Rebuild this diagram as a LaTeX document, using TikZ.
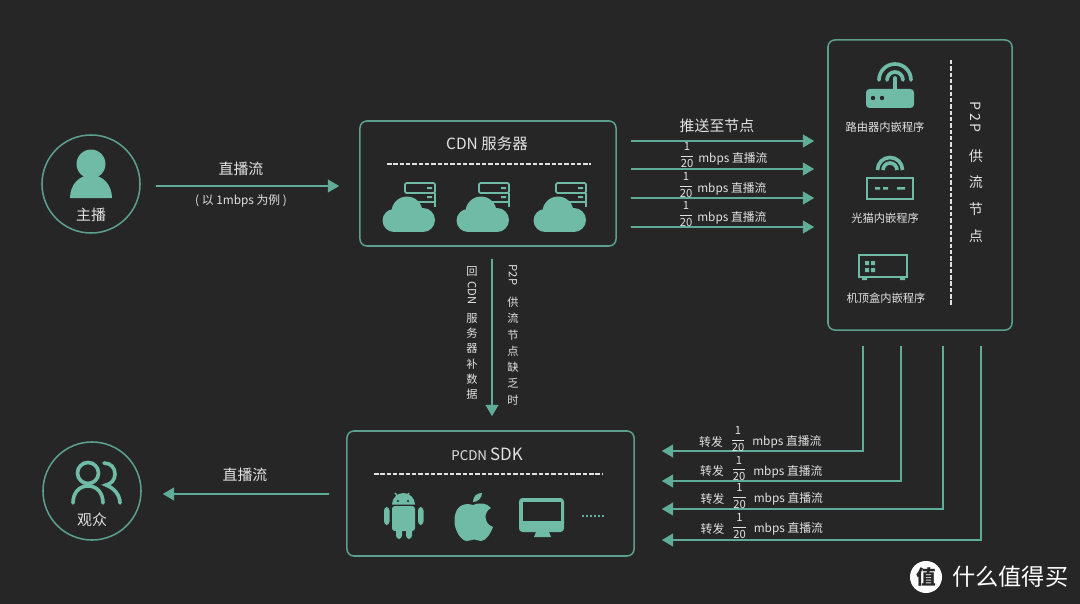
\documentclass[tikz,border=0pt]{standalone}
\usepackage{amsmath}
\usepackage{fontspec}
\setmainfont{Noto Sans CJK SC}
\usetikzlibrary{arrows.meta,positioning,calc}
\definecolor{bgd}{HTML}{262626}
\definecolor{edge}{HTML}{5B9F8C}
\definecolor{flowc}{HTML}{5FAD98}
\definecolor{iconc}{HTML}{6FBBA6}
\definecolor{txt}{HTML}{E2E2E2}
\tikzset{
  panel/.style={draw=edge, line width=1.1pt, rounded corners=5pt, fill=bgd},
  round/.style={draw=edge, line width=1.1pt, circle, minimum size=2.45cm, inner sep=0pt},
  flow/.style={-{Triangle[length=8pt, width=9pt]}, line width=1.35pt, flowc},
  sep/.style={txt, line width=0.9pt, dash pattern=on 3.2pt off 1.3pt},
  ifill/.style={fill=iconc, draw=none},
  iline/.style={draw=iconc, line width=2.6pt, line cap=round},
  ibox/.style={draw=iconc, line width=1.9pt},
  lab/.style={font=\fontsize{10.6}{12}\selectfont, txt},
  slab/.style={font=\fontsize{8}{10}\selectfont, txt},
  tlab/.style={font=\fontsize{8.4}{10}\selectfont, txt},
  vlab/.style={txt, align=center, inner sep=0pt},
  frac/.style={font=\fontsize{8}{9}\selectfont, txt, inner sep=0pt},
  pics/cloudserver/.style={code={
    \draw[draw=iconc, line width=1.3pt, rounded corners=1pt] (23,-49) rectangle (53,-39);
    \draw[draw=iconc, line width=1.3pt] (53,-39) -- (53,-25) (30,-30) -- (53,-30);
    \fill[iconc] (45,-45) rectangle (50,-43) (45,-36) rectangle (50,-34);
    \fill[iconc] (25,-20) circle [radius=15.5];
    \fill[iconc] (12,-11.5) circle [radius=11.5];
    \fill[iconc] (41,-12) circle [radius=12];
    \fill[iconc] (12,-12) rectangle (41,0);
  }},
}
\newcommand{\ratefrac}{$\dfrac{\text{1}}{\text{20}}$}

\begin{document}
\begin{tikzpicture}[x=0.025cm,y=-0.025cm]

\fill[bgd] (0,0) rectangle (1080,604);
\useasboundingbox (0,0) rectangle (1080,604);

% ===================== boxes =====================
\node[round] (host) at (91,184) {};
\node[round] (viewer) at (92,491) {};
\node[panel, minimum width=6.4cm, minimum height=3.125cm] (cdn) at (488,183.5) {};
\node[panel, minimum width=4.6cm, minimum height=7.25cm] (p2p) at (920,185) {};
\node[panel, minimum width=7.175cm, minimum height=3.125cm] (sdk) at (490.5,493.5) {};

% ===================== connectors =====================
\draw[flow] ([shift={(15,2)}]host.east) -- ([shift={(-20,2.5)}]cdn.west);
\foreach \i/\y in {1/-42.5,2/-14.5,3/14.5,4/43.5}{
  \draw[flow] ([shift={(14,\y)}]cdn.east) -- ([shift={(-13,\y-1.5)}]p2p.west);}
\draw[flow] ([shift={(4,12)}]cdn.south) -- ([shift={(1.5,-14)}]sdk.north);
\foreach \dx/\dy in {-57/-42.5,-19/-12.5,23/15.5,61/46.5}{
  \draw[flow] ([shift={(\dx,15)}]p2p.south) |- ([shift={(27,\dy)}]sdk.east);}
\draw[flow] ([shift={(-17,0.5)}]sdk.west) -- ([shift={(21,3)}]viewer.east);

% ===================== host and viewer =====================
\fill[iconc] (91,164) circle [radius=14.5];
\fill[iconc] (70,198) .. controls (70,185) and (79,175) .. (91,175)
  .. controls (103,175) and (112,185) .. (112,198) -- cycle;
\node[lab] (hostlab) at (91,215) {主播};
\node[lab] (flowlab) at (241,169) {直播流};
\node[tlab] (flownote) at (241,201) {( 以 1mbps 为例 )};

\draw[iline] (88,473) circle [radius=10.5];
\draw[iline] (73,503) .. controls (73,493) and (79,486) .. (88,486)
  .. controls (97,486) and (103,493) .. (103,503);
\draw[iline] (104,463) .. controls (111,463) and (115,468) .. (115,474)
  .. controls (115,480) and (111,484) .. (106,485)
  .. controls (114,488) and (120,495) .. (120,503);
\node[lab] (viewerlab) at (92,520) {观众};
\node[lab] (backlab) at (245,475) {直播流};

% ===================== CDN box =====================
\node[font=\fontsize{11}{13}\selectfont, txt] (cdntitle) at (487,144) {CDN 服务器};
\draw[sep] (387,164) -- (591,164);
\foreach \x in {382,456,533}{
  \pic at (\x,232) {cloudserver};}

% ===================== rates towards the nodes =====================
\node[lab] (pushlab) at (717,126) {推送至节点};
\foreach \i/\x/\y in {1/687/155,2/686/185,3/686/214}{
  \node[frac] (ratef\i) at (\x,\y) {\ratefrac};
  \node[tlab, anchor=west, inner sep=0pt] (ratet\i) at (\x+11,\y+3.5) {mbps 直播流};}

% ===================== vertical labels =====================
\node[vlab, font=\fontsize{8}{10}\selectfont] (backa) at (472,271) {回};
\node[vlab, rotate=-90, font=\fontsize{8}{10}\selectfont] (backb) at (472,293) {CDN};
\node[vlab, font=\fontsize{8}{10.8}\selectfont] (backc) at (472,356.5) {服\\务\\器\\补\\数\\据};
\node[vlab, rotate=-90, font=\fontsize{8}{10}\selectfont] (lacka) at (513,275) {P2P};
\node[vlab, font=\fontsize{8}{11.6}\selectfont] (lackb) at (513,351) {供\\流\\节\\点\\缺\\乏\\时};

% ===================== P2P box =====================
\draw[sep] (951,60) -- (951,306);
\node[vlab, rotate=-90, font=\fontsize{10}{12}\selectfont] (p2pa) at (976,117) {P\,2\,P};
\node[vlab, font=\fontsize{10}{19}\selectfont] (p2pb) at (976,196) {供\\流\\节\\点};

% router
\draw[iline] (879,80) arc [start angle=180, end angle=360, radius=16];
\draw[iline] (887,80) arc [start angle=180, end angle=360, radius=8];
\draw[iline] (895,78) -- (895,92);
\fill[iconc, rounded corners=2.5pt] (866,89) rectangle (914,108);
\fill[bgd] (873,98) circle [radius=2.2] (882,98) circle [radius=2.2];
\node[slab] (routerlab) at (885,127) {路由器内嵌程序};

% modem
\draw[iline, line cap=butt] (877.5,170) arc [start angle=180, end angle=360, radius=12.5];
\draw[iline, line cap=butt] (883,170) arc [start angle=180, end angle=360, radius=7];
\draw[ibox] (867,178) rectangle (913,199);
\fill[iconc] (875,187) rectangle (880,189.5) (883,187) rectangle (888,189.5) (897,187) rectangle (905,189.5);
\node[slab] (modemlab) at (885,218) {光猫内嵌程序};

% set-top box
\draw[ibox] (859,255) rectangle (907,277);
\fill[iconc] (862,278) rectangle (867,280) (900,278) rectangle (905,280);
\fill[iconc] (865,261) rectangle (869,265) (871,261) rectangle (875,265)
  (865,268) rectangle (869,272) (871,268) rectangle (875,272);
\node[slab] (stblab) at (886,298) {机顶盒内嵌程序};

% ===================== forwarded rates =====================
\foreach \i/\d/\y in {1/0/439,2/1/468.5,3/1.5/496,4/1.5/526}{
  \node[tlab] (fwda\i) at (711+\d,\y+3) {转发};
  \node[frac] (fwdf\i) at (738+\d,\y) {\ratefrac};
  \node[tlab, anchor=west, inner sep=0pt] (fwdt\i) at (752+\d,\y+3) {mbps 直播流};}

% ===================== SDK box =====================
\node[txt, inner sep=0pt] (sdktitle) at (487,454)
  {\fontsize{9.5}{11}\selectfont PCDN \fontsize{12}{13}\selectfont SDK};
\draw[sep] (374,474) -- (603,474);

% android
\draw[iconc, line width=1pt] (395,493) -- (399,498) (409,493) -- (405,498);
\fill[iconc] (392,504.5) arc [start angle=180, end angle=360, radius=11.5] -- cycle;
\fill[bgd] (398,501) circle [radius=1.1] (408,501) circle [radius=1.1];
\fill[iconc, rounded corners=2pt] (392,506) rectangle (415,531);
\fill[iconc, rounded corners=2.4pt] (384,507) rectangle (389.5,525) (418,507) rectangle (423.5,525)
  (396,525) rectangle (402,539) (406,525) rectangle (412,539);

% apple
\fill[iconc] (473,505) .. controls (467,503) and (455,503) .. (454.5,520)
  .. controls (454,530) and (461,541) .. (467,541)
  .. controls (470,541) and (471,539.5) .. (474,539.5)
  .. controls (477,539.5) and (478,541) .. (481,541)
  .. controls (486,541) and (491,533) .. (493,527)
  .. controls (484,524) and (483,512) .. (491,508)
  .. controls (487,503) and (479,502) .. (473,505) -- cycle;
\fill[iconc] (473,502) .. controls (473,496) and (477,493) .. (482,493)
  .. controls (482,498) and (478,502) .. (473,502) -- cycle;

% monitor
\fill[iconc, rounded corners=2.5pt] (519,498) rectangle (564,532);
\fill[bgd] (523,502) rectangle (561,521);
\fill[iconc] (536,532) -- (549,532) -- (551,537) -- (534,537) -- cycle;
\draw[flowc, line width=0.9pt, dash pattern=on 1.4pt off 1.4pt] (582,516) -- (605,516);

% ===================== site mark =====================
\node[circle, fill=white, minimum size=0.8cm, inner sep=0pt, text=bgd,
  font=\fontsize{14}{16}\selectfont\bfseries] (marklogo) at (926,577) {值};
\node[anchor=west, inner sep=0pt, text=white, font=\fontsize{16.5}{18}\selectfont]
  (marktext) at (952,577) {什么值得买};

\end{tikzpicture}
\end{document}
